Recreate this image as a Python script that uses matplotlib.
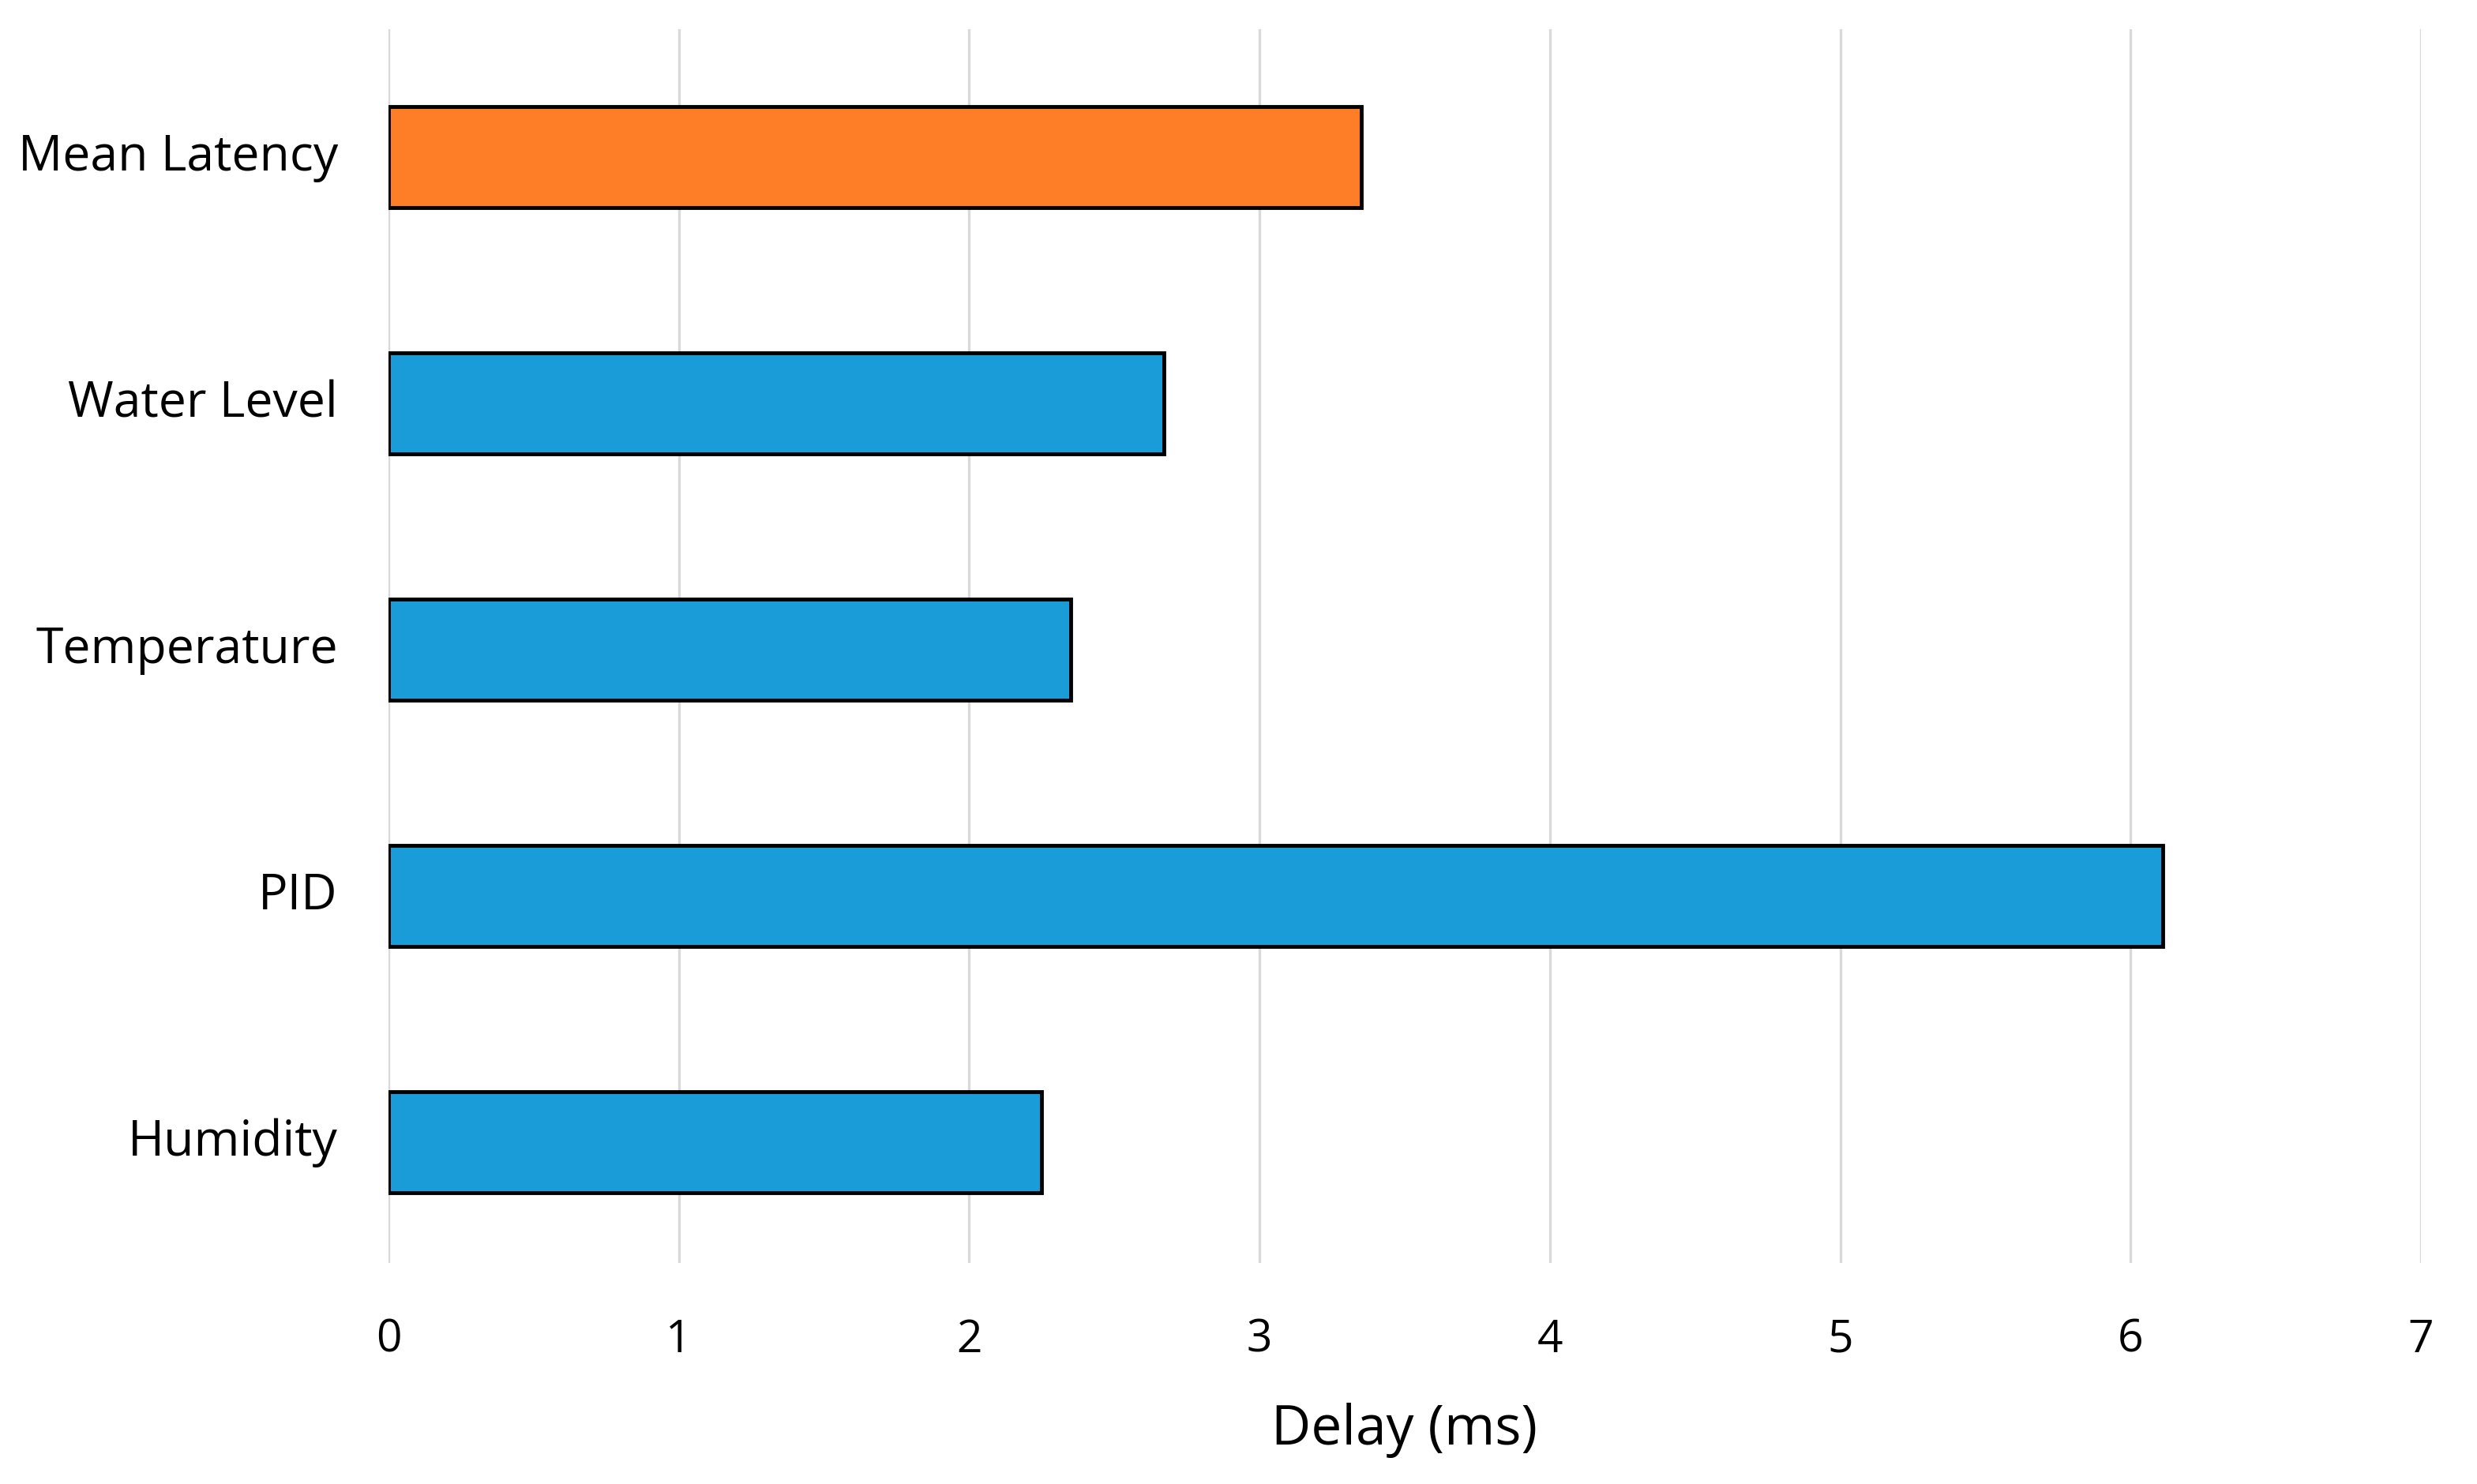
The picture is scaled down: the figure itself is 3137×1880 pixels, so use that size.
import matplotlib
matplotlib.use("Agg")
import matplotlib.pyplot as plt
import matplotlib.transforms as mtransforms

# bars listed bottom to top
categories = ["Humidity", "PID", "Temperature", "Water Level", "Mean Latency"]
delays = [2.25, 6.11, 2.35, 2.67, 3.35]
colors = ["#1A9CD8", "#1A9CD8", "#1A9CD8", "#1A9CD8", "#FD7E26"]
xticks = [0, 1, 2, 3, 4, 5, 6, 7]

plt.rcParams["font.family"] = ["Open Sans", "DejaVu Sans"]

fig = plt.figure(figsize=(31.37, 18.80), dpi=100)
ax = fig.add_axes([0.1568, 0.1489, 0.8206, 0.8314])

ax.barh(range(len(categories)), delays, height=0.41, color=colors,
        edgecolor="black", linewidth=3.5, zorder=3)

ax.set_xlim(0, 7)
ax.set_ylim(-0.49, 4.52)
ax.set_xticks(xticks)
ax.set_yticks(range(len(categories)))
ax.set_yticklabels(categories)
ax.xaxis.grid(True, color="#d9d9d9", linewidth=2.4, zorder=0)
ax.set_axisbelow(True)
for s in ax.spines.values():
    s.set_visible(False)

ax.tick_params(axis="y", length=0, pad=46, labelsize=45, colors="black")
ax.tick_params(axis="x", length=0, pad=50, labelsize=41, colors="black")
ax.set_xlabel("Delay (ms)", fontsize=50, labelpad=36)

# nudge the category labels up a little
shift = mtransforms.ScaledTranslation(0, 5 / 72, fig.dpi_scale_trans)
for lbl in ax.get_yticklabels():
    lbl.set_transform(lbl.get_transform() + shift)

fig.savefig("out.png", dpi=100, facecolor="white")
